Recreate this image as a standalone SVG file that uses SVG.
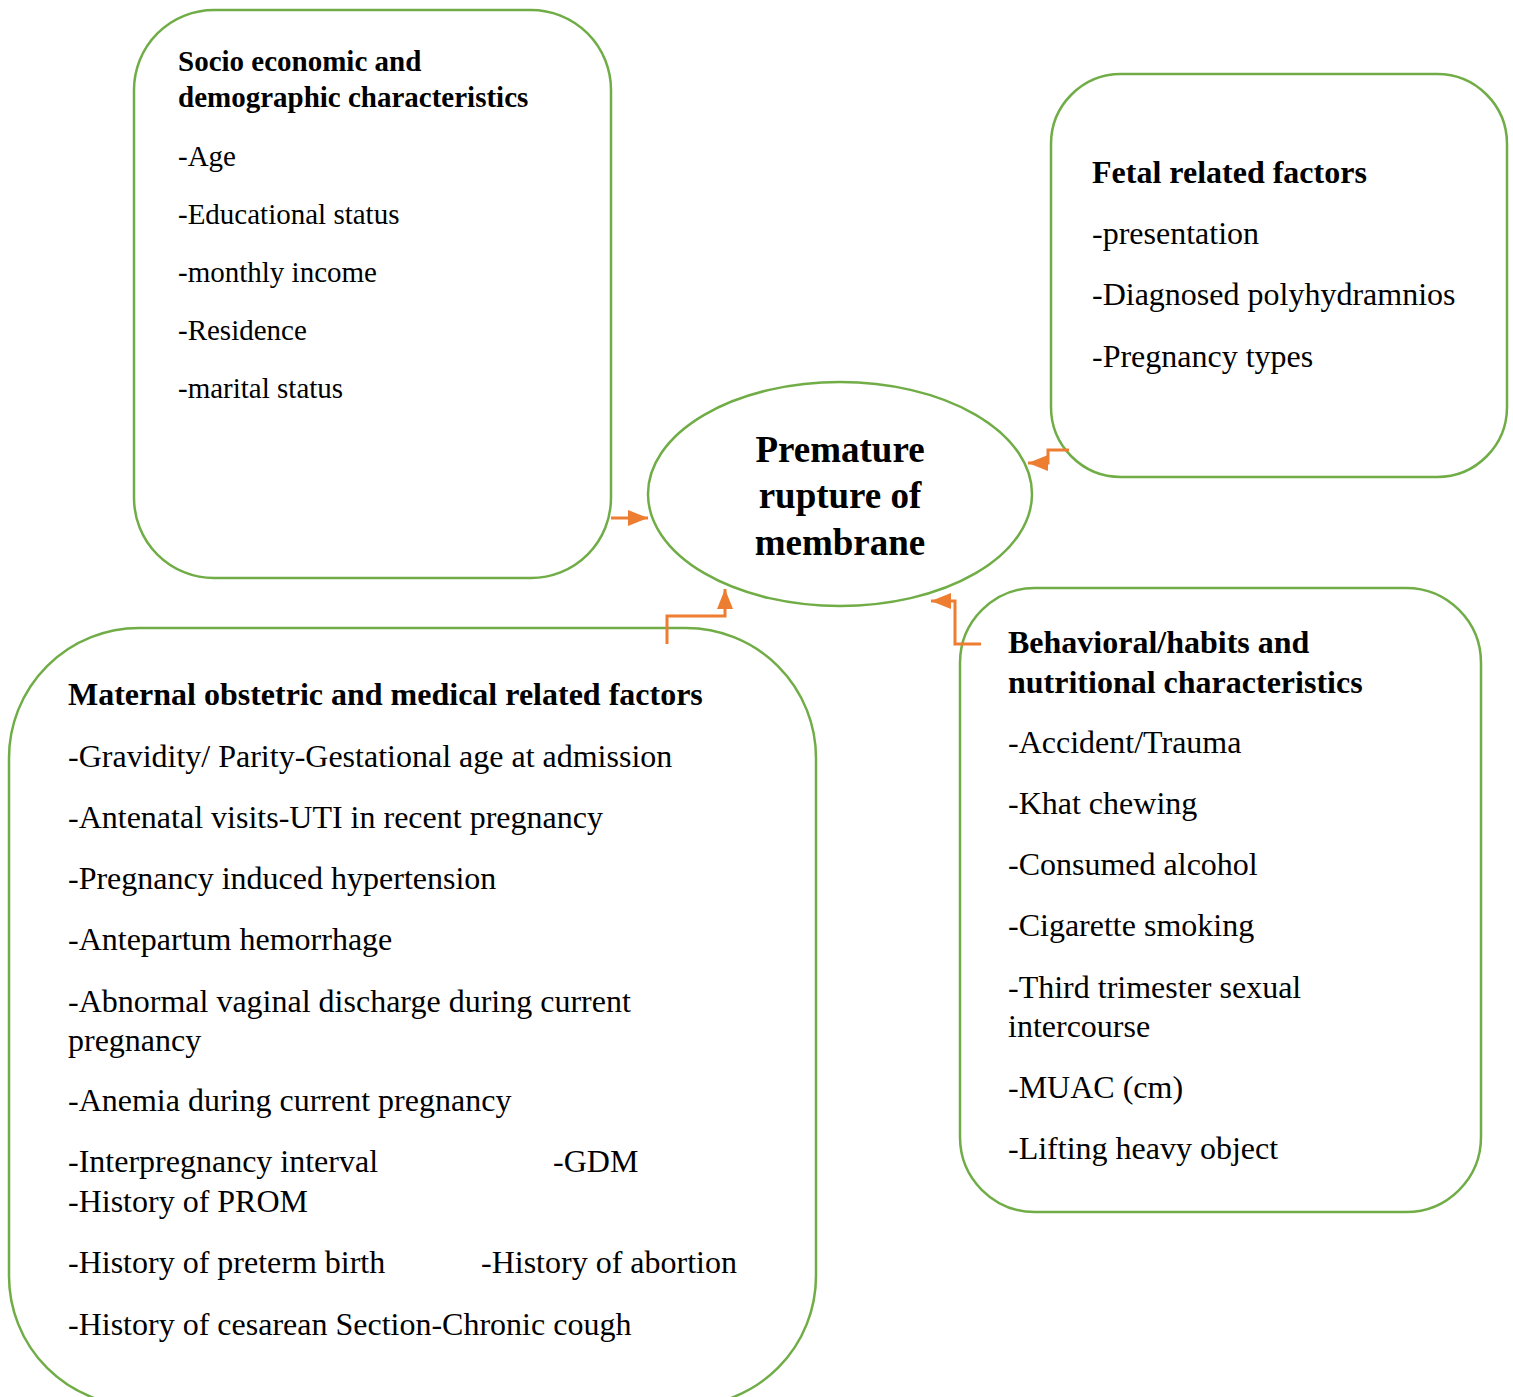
<svg xmlns="http://www.w3.org/2000/svg" width="1513" height="1397" viewBox="0 0 1513 1397">
<defs>
<style>
.box{fill:#fff;stroke:#70AD47;stroke-width:2.5}
.t{font-family:"Liberation Serif","Times New Roman",serif;fill:#000}
.s29{font-size:29px}
.s32{font-size:32px}
.b{font-weight:bold}
.c{stroke:#ED7D31;stroke-width:3;fill:none}
</style>
<marker id="ah" viewBox="0 0 10 10" refX="10" refY="5" markerWidth="6" markerHeight="6" markerUnits="userSpaceOnUse" orient="auto">
<path d="M0,0 L10,5 L0,10 z" fill="#ED7D31"/>
</marker>
<marker id="a" viewBox="0 0 10 10" refX="10" refY="5" markerWidth="20" markerHeight="20" markerUnits="userSpaceOnUse" orient="auto">
<path d="M0,1 L10,5 L0,9 z" fill="#ED7D31"/>
</marker>
</defs>
<rect width="1513" height="1397" fill="#fff"/>

<g id="socio">
<rect class="box" x="134" y="10" width="477" height="568" rx="80"/>
<text class="t s29 b" x="178" y="71">Socio economic and</text>
<text class="t s29 b" x="178" y="107">demographic characteristics</text>
<text class="t s29" x="178" y="166">-Age</text>
<text class="t s29" x="178" y="224">-Educational status</text>
<text class="t s29" x="178" y="282">-monthly income</text>
<text class="t s29" x="178" y="340">-Residence</text>
<text class="t s29" x="178" y="398">-marital status</text>
</g>

<g id="fetal">
<rect class="box" x="1051" y="74" width="456" height="403" rx="70"/>
<text class="t s32 b" x="1092" y="183">Fetal related factors</text>
<text class="t s32" x="1092" y="244">-presentation</text>
<text class="t s32" x="1092" y="305">-Diagnosed polyhydramnios</text>
<text class="t s32" x="1092" y="367">-Pregnancy types</text>
</g>

<g id="prom">
<ellipse cx="840" cy="494" rx="192" ry="112" fill="#fff" stroke="#70AD47" stroke-width="2.5"/>
<text class="t b" font-size="37" text-anchor="middle" x="840" y="462">Premature</text>
<text class="t b" font-size="37" text-anchor="middle" x="840" y="508">rupture of</text>
<text class="t b" font-size="37" text-anchor="middle" x="840" y="555">membrane</text>
</g>

<g id="maternal">
<rect class="box" x="9" y="628" width="807" height="778" rx="130"/>
<text class="t s32 b" x="68" y="705">Maternal obstetric and medical related factors</text>
<text class="t s32" x="68" y="767">-Gravidity/ Parity-Gestational age at admission</text>
<text class="t s32" x="68" y="828">-Antenatal visits-UTI in recent pregnancy</text>
<text class="t s32" x="68" y="889">-Pregnancy induced hypertension</text>
<text class="t s32" x="68" y="950">-Antepartum hemorrhage</text>
<text class="t s32" x="68" y="1012">-Abnormal vaginal discharge during current</text>
<text class="t s32" x="68" y="1051">pregnancy</text>
<text class="t s32" x="68" y="1111">-Anemia during current pregnancy</text>
<text class="t s32" x="68" y="1172">-Interpregnancy interval</text>
<text class="t s32" x="553" y="1172">-GDM</text>
<text class="t s32" x="68" y="1212">-History of PROM</text>
<text class="t s32" x="68" y="1273">-History of preterm birth</text>
<text class="t s32" x="481" y="1273">-History of abortion</text>
<text class="t s32" x="68" y="1335">-History of cesarean Section-Chronic cough</text>
</g>

<g id="behavioral">
<rect class="box" x="960" y="588" width="521" height="624" rx="75"/>
<text class="t s32 b" x="1008" y="653">Behavioral/habits and</text>
<text class="t s32 b" x="1008" y="693">nutritional characteristics</text>
<text class="t s32" x="1008" y="753">-Accident/Trauma</text>
<text class="t s32" x="1008" y="814">-Khat chewing</text>
<text class="t s32" x="1008" y="875">-Consumed alcohol</text>
<text class="t s32" x="1008" y="936">-Cigarette smoking</text>
<text class="t s32" x="1008" y="998">-Third trimester sexual</text>
<text class="t s32" x="1008" y="1037">intercourse</text>
<text class="t s32" x="1008" y="1098">-MUAC (cm)</text>
<text class="t s32" x="1008" y="1159">-Lifting heavy object</text>
</g>

<g id="connectors">
<path class="c" d="M611,518 H648" marker-end="url(#a)"/>
<path class="c" d="M1069,450 H1048 V463 H1028" marker-end="url(#a)"/>
<path class="c" d="M667,644 V616 H725 V589" marker-end="url(#a)"/>
<path class="c" d="M981,644 H955 V601 H931" marker-end="url(#a)"/>
</g>
</svg>
